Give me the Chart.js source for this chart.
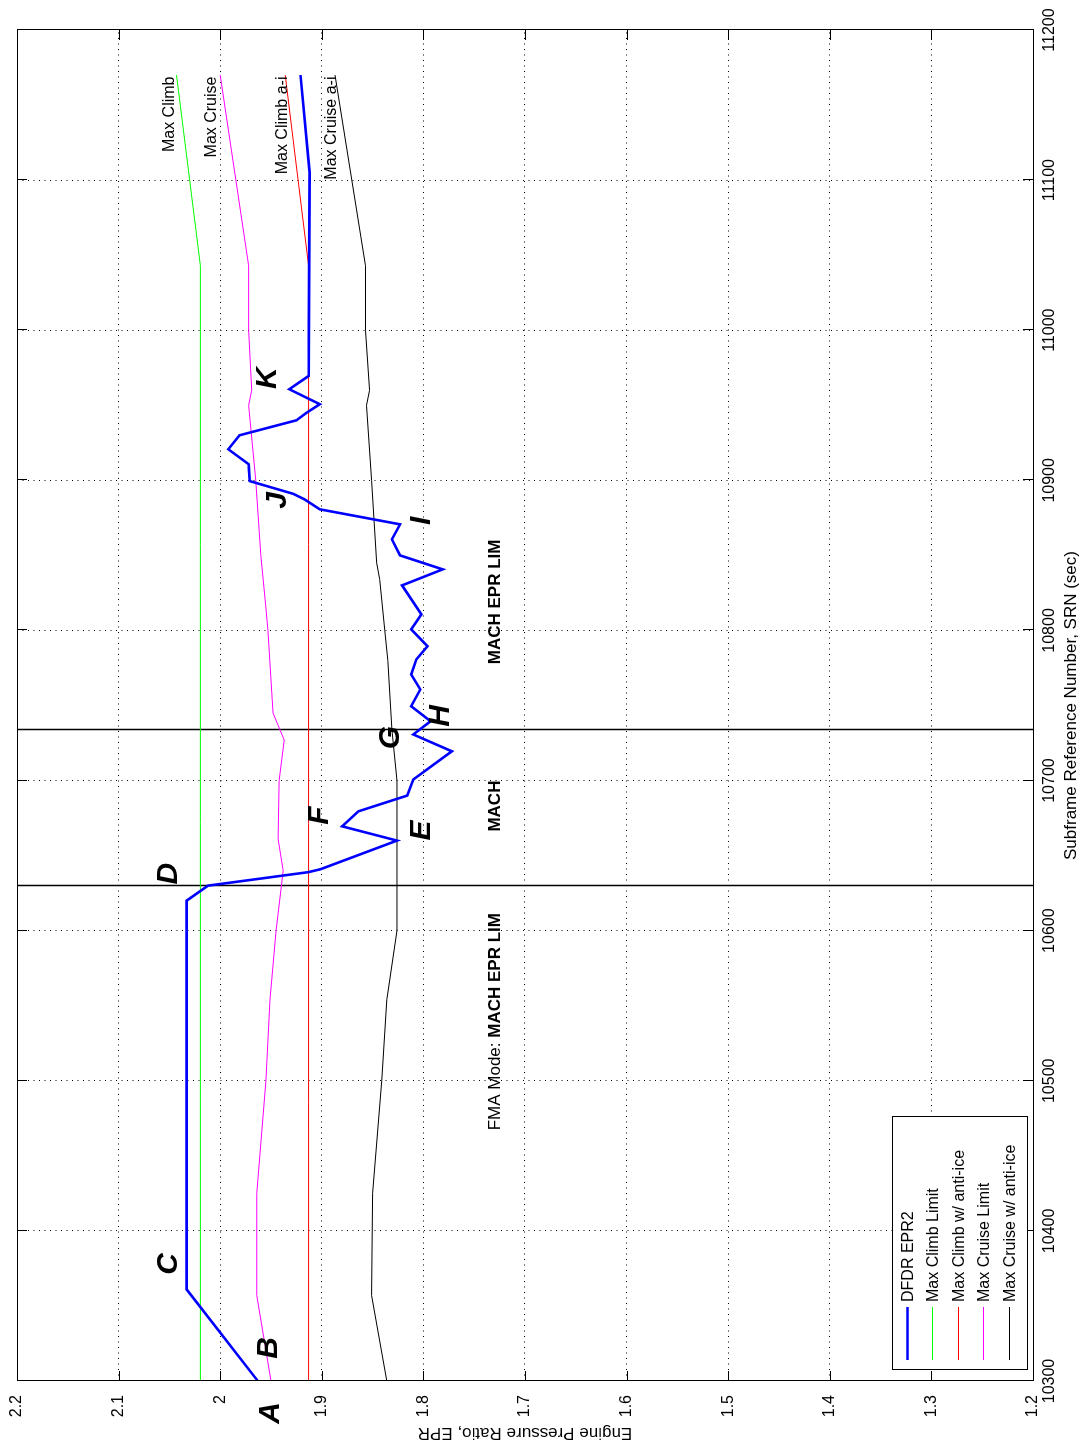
<!DOCTYPE html>
<html>
<head>
<meta charset="utf-8">
<title>DFDR EPR2 vs SRN</title>
<script src="https://cdn.jsdelivr.net/npm/chart.js@4.4.0/dist/chart.umd.min.js"></script>
<style>
  html, body { margin: 0; padding: 0; background: #fff; overflow: hidden; }
  /* chart is drawn landscape, then turned a quarter turn like the scanned page */
  #wrap {
    position: absolute; left: 0; top: 0;
    width: 1448px; height: 1086px;
    transform-origin: 0 0;
    transform: translate(0, 1448px) rotate(-90deg);
  }
</style>
</head>
<body>
<div id="wrap"><canvas id="eprChart" width="1448" height="1086"></canvas></div>
<script>
// series names (legend order)
const seriesNames = ['DFDR EPR2', 'Max Climb Limit', 'Max Climb w/ anti-ice', 'Max Cruise Limit', 'Max Cruise w/ anti-ice'];
const seriesColors = ['#0000ff', '#00ff00', '#ff0000', '#ff00ff', '#000000'];

// DFDR EPR2
const eprSrn = [10300, 10361, 10620, 10630, 10639, 10641, 10660, 10669.5, 10679.5, 10690, 10700.7,
  10719.5, 10730.7, 10739.5, 10749.5, 10760.7, 10770.7, 10780.7, 10789.5, 10800.7, 10810.7,
  10830, 10840.7, 10850, 10860.7, 10870.7, 10880.7, 10887.3, 10891, 10899.5, 10910.7, 10920.7,
  10930, 10940, 10945, 10950.7, 10960.7, 10969.5, 11105, 11170];
const eprValues = [1.963, 2.033, 2.033, 2.012, 1.913, 1.901, 1.826, 1.880, 1.864, 1.816, 1.810,
  1.772, 1.810, 1.793, 1.812, 1.803, 1.812, 1.807, 1.796, 1.812, 1.802,
  1.821, 1.781, 1.823, 1.831, 1.823, 1.902, 1.917, 1.928, 1.971, 1.972, 1.992,
  1.981, 1.925, 1.915, 1.902, 1.932, 1.913, 1.912, 1.921];

// Max Climb limit
const climbSrn = [10300, 11043, 11170];
const climbEpr = [2.0195, 2.0195, 2.043];

// Max Climb w/ anti-ice
const climbAiSrn = [10300, 11043, 11170];
const climbAiEpr = [1.913, 1.913, 1.936];

// Max Cruise limit
const cruiseSrn = [10300, 10357, 10425, 10500, 10554, 10600, 10640, 10661, 10700, 10727, 10745,
  10800, 10815, 10850, 10900, 10950, 10960, 11000, 11043, 11170];
const cruiseEpr = [1.950, 1.964, 1.964, 1.955, 1.951, 1.945, 1.938, 1.943, 1.942, 1.937, 1.948,
  1.953, 1.955, 1.960, 1.965, 1.972, 1.969, 1.972, 1.972, 2.000];

// Max Cruise w/ anti-ice
const cruiseAiSrn = [10300, 10357, 10425, 10500, 10554, 10600, 10661, 10700, 10734, 10780, 10800,
  10834, 10845, 10900, 10950, 10960, 11000, 11043, 11170];
const cruiseAiEpr = [1.836, 1.851, 1.850, 1.841, 1.836, 1.826, 1.826, 1.826, 1.831, 1.835, 1.838,
  1.843, 1.846, 1.851, 1.856, 1.853, 1.857, 1.857, 1.887];

// FMA mode change markers
const markerSrn = [10630, 10734];

// event letters
const letters = ['A', 'B', 'C', 'D', 'E', 'F', 'G', 'H', 'I', 'J', 'K'];
const letterSrn = [10278.7, 10322, 10378, 10638, 10666.7, 10676.7, 10728.7, 10743, 10873, 10886.7, 10968];
const letterEpr = [1.950, 1.952, 2.051, 2.051, 1.802, 1.902, 1.832, 1.783, 1.802, 1.943, 1.953];

// labels at the end of the limit lines
const endLabels = ['Max Climb', 'Max Cruise', 'Max Climb a-i', 'Max Cruise a-i'];
const endLabelEpr = [2.045, 2.004, 1.934, 1.886];
const endLabelSrn = 11169;

// FMA mode texts
const modeSrn = [10467, 10683, 10819];
const modeEpr = 1.725;

const FONT = "'Liberation Sans', Arial, Helvetica, sans-serif";
Chart.defaults.font.family = FONT;
Chart.defaults.color = '#000';

const toPoints = (xs, ys) => xs.map((x, i) => ({ x: x, y: ys[i] }));

const seriesData = [
  toPoints(eprSrn, eprValues),
  toPoints(climbSrn, climbEpr),
  toPoints(climbAiSrn, climbAiEpr),
  toPoints(cruiseSrn, cruiseEpr),
  toPoints(cruiseAiSrn, cruiseAiEpr)
];

const notesPlugin = {
  id: 'notes',
  beforeDatasetsDraw(chart) {
    const { ctx, chartArea: a, scales: { x } } = chart;
    ctx.save();
    ctx.strokeStyle = '#000';
    ctx.lineWidth = 1.5;
    markerSrn.forEach(s => {
      const px = Math.round(x.getPixelForValue(s)) + 0.5;
      ctx.beginPath();
      ctx.moveTo(px, a.top);
      ctx.lineTo(px, a.bottom);
      ctx.stroke();
    });
    ctx.restore();
  },
  afterDatasetsDraw(chart) {
    const { ctx, chartArea: a, scales: { x, y } } = chart;
    ctx.save();
    // frame
    ctx.strokeStyle = '#000';
    ctx.lineWidth = 1;
    ctx.strokeRect(a.left + 0.5, a.top + 0.5, a.right - a.left, a.bottom - a.top);
    // inside ticks on every side
    const tl = 10;
    ctx.beginPath();
    x.ticks.forEach(t => {
      const px = Math.round(x.getPixelForValue(t.value)) + 0.5;
      ctx.moveTo(px, a.bottom); ctx.lineTo(px, a.bottom - tl);
      ctx.moveTo(px, a.top); ctx.lineTo(px, a.top + tl);
    });
    y.ticks.forEach(t => {
      const py = Math.round(y.getPixelForValue(t.value)) + 0.5;
      ctx.moveTo(a.left, py); ctx.lineTo(a.left + tl, py);
      ctx.moveTo(a.right, py); ctx.lineTo(a.right - tl, py);
    });
    ctx.stroke();
    ctx.restore();
  },
  afterDraw(chart) {
    const { ctx, chartArea: a, scales: { x, y } } = chart;
    ctx.save();
    ctx.fillStyle = '#000';

    // end-of-line labels
    ctx.font = '16px ' + FONT;
    ctx.textAlign = 'right';
    ctx.textBaseline = 'alphabetic';
    endLabels.forEach((txt, i) => {
      ctx.fillText(txt, x.getPixelForValue(endLabelSrn), y.getPixelForValue(endLabelEpr[i]));
    });

    // FMA mode texts
    const by = y.getPixelForValue(modeEpr);
    ctx.textAlign = 'left';
    ctx.font = '17px ' + FONT;
    const lead = 'FMA Mode: ';
    let px = x.getPixelForValue(modeSrn[0]);
    ctx.fillText(lead, px, by);
    px += ctx.measureText(lead).width;
    ctx.font = 'bold 17px ' + FONT;
    ctx.fillText('MACH EPR LIM', px, by);
    ctx.textAlign = 'center';
    ctx.fillText('MACH', x.getPixelForValue(modeSrn[1]), by);
    ctx.fillText('MACH EPR LIM', x.getPixelForValue(modeSrn[2]), by);

    // event letters
    ctx.font = 'italic bold 30px ' + FONT;
    ctx.textAlign = 'center';
    ctx.textBaseline = 'middle';
    letters.forEach((l, i) => {
      ctx.fillText(l, x.getPixelForValue(letterSrn[i]), y.getPixelForValue(letterEpr[i]));
    });

    // legend box, lower left
    const lx = a.left + 11, lw = 253, lh = 135;
    const ly = a.bottom - 6 - lh;
    ctx.fillStyle = '#fff';
    ctx.fillRect(lx, ly, lw, lh);
    ctx.strokeStyle = '#000';
    ctx.lineWidth = 1;
    ctx.strokeRect(lx + 0.5, ly + 0.5, lw, lh);
    ctx.font = '16px ' + FONT;
    ctx.textAlign = 'left';
    ctx.textBaseline = 'middle';
    seriesNames.forEach((name, i) => {
      const ry = Math.round(ly + 15 + i * 25.4) + 0.5;
      ctx.strokeStyle = seriesColors[i];
      ctx.lineWidth = i === 0 ? 2.5 : 1;
      ctx.beginPath();
      ctx.moveTo(lx + 10, ry);
      ctx.lineTo(lx + 63, ry);
      ctx.stroke();
      ctx.fillStyle = '#000';
      ctx.fillText(name, lx + 68, ry + 1);
    });
    ctx.restore();
  }
};

new Chart(document.getElementById('eprChart').getContext('2d'), {
  type: 'line',
  data: {
    datasets: seriesNames.map((name, i) => ({
      label: name,
      data: seriesData[i],
      borderColor: seriesColors[i],
      backgroundColor: seriesColors[i],
      borderWidth: i === 0 ? 2.6 : 1,
      pointRadius: 0,
      tension: 0,
      fill: false
    }))
  },
  options: {
    responsive: false,
    animation: false,
    events: [],
    layout: { padding: { top: 17, right: 30, left: 0, bottom: 0 } },
    plugins: {
      legend: { display: false },
      tooltip: { enabled: false },
      title: { display: false }
    },
    scales: {
      x: {
        type: 'linear',
        min: 10300,
        max: 11200,
        afterFit: s => { s.height = 53; s.paddingLeft = 0; s.paddingRight = 0; },
        ticks: {
          stepSize: 100,
          padding: 7,
          maxRotation: 0,
          font: { size: 16 },
          color: '#000',
          callback: v => String(v)
        },
        grid: { color: '#000', lineWidth: 1, drawTicks: false },
        border: { display: false, dash: [1, 4.5] },
        title: {
          display: true,
          text: 'Subframe Reference Number, SRN (sec)',
          font: { size: 17 },
          color: '#000',
          padding: { top: 0, bottom: 4 }
        }
      },
      y: {
        min: 1.2,
        max: 2.2,
        afterFit: s => { s.width = 67; s.paddingTop = 0; s.paddingBottom = 0; },
        ticks: {
          stepSize: 0.1,
          padding: 14,
          font: { size: 16 },
          color: '#000',
          callback: v => String(Math.round(v * 10) / 10)
        },
        grid: { color: '#000', lineWidth: 1, drawTicks: false },
        border: { display: false, dash: [1, 4.5] },
        title: {
          display: true,
          text: 'Engine Pressure Ratio, EPR',
          font: { size: 17 },
          color: '#000',
          padding: { top: 5, bottom: 0 }
        }
      }
    }
  },
  plugins: [notesPlugin]
});
</script>
</body>
</html>
